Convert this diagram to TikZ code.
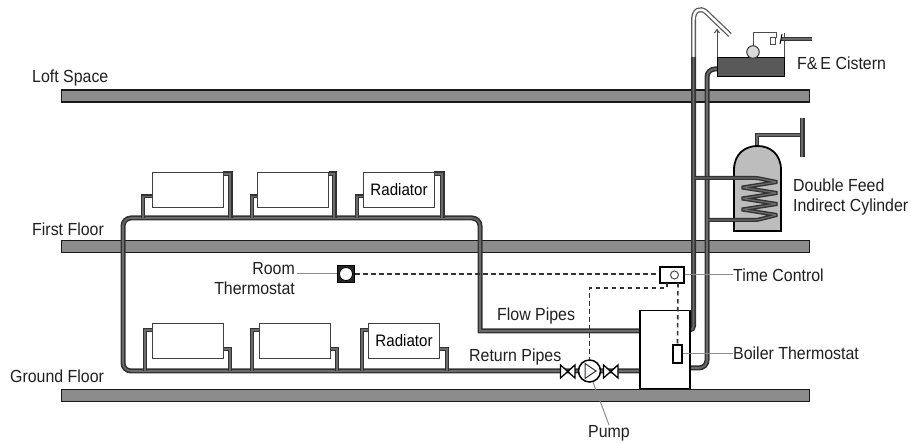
\documentclass[tikz,border=0pt]{standalone}
\usepackage{fontspec}
\setmainfont[FakeStretch=0.91]{Liberation Sans}
\definecolor{floorgray}{gray}{0.55}
\definecolor{pipedark}{gray}{0.2}
\definecolor{pipemid}{gray}{0.42}
\definecolor{cylgray}{gray}{0.74}
\definecolor{textgray}{gray}{0.12}
\tikzset{
  floorbar/.style={draw=black!90,line width=1.4pt,fill=floorgray,minimum width=748pt,minimum height=12pt,inner sep=0pt,anchor=north west},
  pipe/.style={draw=pipedark,line width=5pt,postaction={draw=pipemid,line width=1.6pt}},
  thinpipe/.style={draw=pipedark,line width=4pt,postaction={draw=pipemid,line width=1.2pt}},
  ventpipe/.style={draw=pipedark!80,line width=5pt,postaction={draw=white,line width=2.4pt}},
  radbox/.style={draw=black!75,line width=1pt,fill=white,minimum width=71pt,minimum height=35pt,inner sep=0pt,font=\fontsize{16.6}{18}\selectfont},
  lbl/.style={inner sep=0pt,text=textgray,font=\fontsize{17.5}{20}\selectfont},
  leader/.style={draw=black!45,line width=1pt},
  ctrl/.style={draw=black,line width=1.8pt,fill=white,inner sep=0pt},
  signal/.style={draw=black!80,line width=1.6pt,dash pattern=on 4.5pt off 3.5pt},
}
\begin{document}
\begin{tikzpicture}[x=1pt,y=-1pt]
\useasboundingbox (0,0) rectangle (911,443);
% floors
\node[floorbar] (loft) at (61,89.5) {};
\node[floorbar] (first) at (61,240) {};
\node[floorbar] (ground) at (61,389) {};
% circuit pipes
\draw[pipe,rounded corners=8pt] (639,371) -- (123,371) -- (123,218) -- (480,218) -- (480,331) [sharp corners] -- (480,331) -- (639,331);
% top radiators
\foreach \lx/\rx/\px/\qx in {152/223/143/230,257/329/252/334,363/434/357/442}{
  \draw[thinpipe] (\px,218) -- (\px,196.5) -- (\lx,196.5);
  \draw[pipe] (\qx,218) -- (\qx,174) -- (\rx,174);
}
\node[radbox,anchor=north west] (ra) at (152,172) {};
\node[radbox,anchor=north west] (rb) at (257,172) {};
\node[radbox,anchor=north west] (rc) at (363,172) {Radiator};
% bottom radiators
\foreach \px/\qx/\lx/\rx in {145/230/152/223,252/337/259/330,362/447/368/439}{
  \draw[thinpipe] (\px,371) -- (\px,330) -- (\lx,330);
  \draw[thinpipe] (\qx,371) -- (\qx,349) -- (\rx,349);
}
\node[radbox,anchor=north west] (rd) at (152,323) {};
\node[radbox,anchor=north west] (re) at (259,323) {};
\node[radbox,anchor=north west] (rf) at (368,323) {Radiator};
% cylinder
\draw[thinpipe] (757,147) -- (757,135) -- (802,135);
\draw[pipe] (802,118) -- (802,157);
\draw[draw=black,line width=1.8pt,fill=cylgray] (734,231) -- (734,170) .. controls (734,154) and (745,146) .. (757.5,146) .. controls (770,146) and (781,154) .. (781,170) -- (781,231) -- cycle;
% vent and feed
\draw[pipe,rounded corners=4pt] (693.5,57) -- (693.5,330) -- (689,330);
\draw[ventpipe] (693.5,57) -- (693.5,20) .. controls (693.5,10) and (700,7) .. (706,12) -- (730,35);
\draw[pipe,rounded corners=8pt] (717,69) -- (707,69) -- (707,368) -- (689,368);
% coil
\draw[thinpipe,rounded corners=1.5pt] (695,178) -- (757,178) -- (777,182) -- (742,187.5) -- (777,193) -- (742,198.5) -- (777,204) -- (742,209.5) -- (777,215) -- (757,220) -- (708,220);
% cistern
\draw[draw=black!70,line width=1pt] (717,57) -- (717,30);
\draw[draw=black!70,line width=1pt] (714.5,33) -- (717,29.5) -- (719.5,33);
\draw[draw=black!70,line width=1pt] (784,57) -- (784,33);
\node[draw=black,line width=1pt,fill=black!65,minimum width=67pt,minimum height=19pt,inner sep=0pt,anchor=north west] (cistern) at (717,57) {};
\draw[draw=black!70,line width=1pt] (753,46) -- (753,33) -- (776,33) -- (776,38);
\node[circle,draw=black!80,line width=1pt,fill=black!15,minimum size=12.5pt,inner sep=0pt] (ball) at (753,52) {};
\draw[draw=black!70,line width=0.8pt,fill=white] (770,37) rectangle (775,44);
\draw[thinpipe] (781,39) -- (812,39);
\draw[draw=black,line width=1pt] (782,34) -- (780,44);
% boiler
\node[draw=black,line width=1.5pt,fill=white,minimum width=50pt,minimum height=78pt,inner sep=0pt,anchor=north west] (boiler) at (639,310) {};
% controls
\node[draw=black,line width=1.2pt,fill=black!85,minimum size=17pt,inner sep=0pt] (room) at (346,274) {};
\node[circle,draw=black,line width=0.8pt,fill=white,minimum size=13pt,inner sep=0pt] (roomdot) at (346,274) {};
\node[ctrl,minimum width=24pt,minimum height=16pt] (timer) at (672,275) {};
\node[circle,draw=black!70,line width=1pt,minimum size=8pt,inner sep=0pt] (timerdot) at (674.5,275) {};
\node[ctrl,line width=1.4pt,minimum width=9pt,minimum height=18pt] (bstat) at (677.5,354) {};
% pump and valves
\node[circle,draw=black,line width=1.5pt,fill=white,minimum size=22pt,inner sep=0pt] (pump) at (589.5,371) {};
\draw[draw=black!80,line width=1pt] (585,363.5) -- (596,371) -- (585,378.5) -- cycle;
\draw[draw=black,line width=1.3pt,fill=white] (560.5,365) -- (575,378) -- (575,365) -- (560.5,378) -- cycle;
\draw[draw=black,line width=1.3pt,fill=white] (603.5,365) -- (618,378) -- (618,365) -- (603.5,378) -- cycle;
% signal wires
\coordinate (tj) at (667,288);
\coordinate (pj) at (589.5,288);
\draw[signal] (room.east) -- (room.east -| timer.west);
\draw[signal] (667,283) -- (tj) -- (pj) -- (pump.north);
\draw[signal] (678,283) -- (bstat.north);
% labels
\node[lbl,anchor=west] (tloft) at (32,78) {Loft Space};
\node[lbl,anchor=west] (tfirst) at (32,229) {First Floor};
\node[lbl,anchor=west] (tground) at (10,376) {Ground Floor};
\node[lbl,align=right,anchor=east] (troom) at (295,278.5) {Room\\Thermostat};
\node[lbl,anchor=west] (tflow) at (497,316) {Flow Pipes};
\node[lbl,anchor=west] (tret) at (469,357) {Return Pipes};
\node[lbl,anchor=north] (tpump) at (609,425) {Pump};
\node[lbl,anchor=west] (ttime) at (733,275) {Time Control};
\node[lbl,anchor=west] (tboil) at (733,353) {Boiler Thermostat};
\node[lbl,anchor=west] (tcis) at (797,63) {F\&\,E Cistern};
\node[lbl,align=left,anchor=west] (tcyl) at (793,197) {Double Feed\\Indirect Cylinder};
% leaders
\coordinate (pl) at (593,382);
\draw[leader] (troom.east |- room) ++(2,0) -- (room.west);
\draw[leader] (timer.east) -- (ttime.west);
\draw[leader] (bstat.east) -- (bstat.east -| tboil.west);
\draw[leader] (pl) -- (tpump.north);
\end{tikzpicture}
\end{document}
